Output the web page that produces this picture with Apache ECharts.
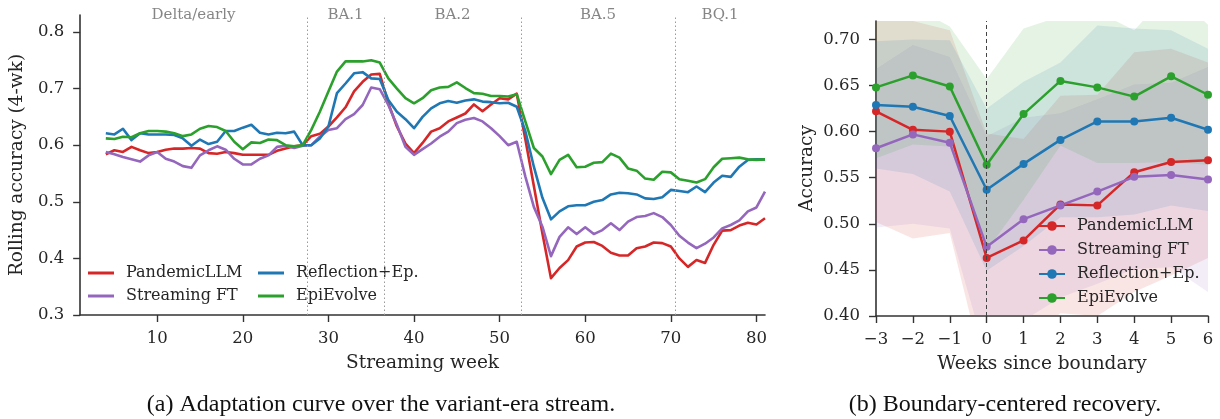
<!DOCTYPE html>
<html>
<head>
<meta charset="utf-8">
<style>
  html, body { margin: 0; padding: 0; background: #ffffff; }
  #chart { width: 1220px; height: 419px; }
</style>
<script src="https://cdn.jsdelivr.net/npm/echarts@6/dist/echarts.min.js"></script>
</head>
<body>
<div id="chart"></div>
<script>
// ---- (a) adaptation curve: 4-week rolling accuracy per streaming week ----
const weeks = [4, 5, 6, 7, 8, 9, 10, 11, 12, 13, 14, 15, 16, 17, 18, 19, 20, 21, 22, 23,
  24, 25, 26, 27, 28, 29, 30, 31, 32, 33, 34, 35, 36, 37, 38, 39, 40, 41, 42, 43,
  44, 45, 46, 47, 48, 49, 50, 51, 52, 53, 54, 55, 56, 57, 58, 59, 60, 61, 62, 63,
  64, 65, 66, 67, 68, 69, 70, 71, 72, 73, 74, 75, 76, 77, 78, 79, 80, 81];

const pandemicRolling = [0.584, 0.591, 0.588, 0.597, 0.591, 0.586, 0.588, 0.592, 0.594, 0.594,
  0.595, 0.594, 0.586, 0.585, 0.588, 0.586, 0.583, 0.583, 0.583, 0.583,
  0.590, 0.594, 0.598, 0.600, 0.616, 0.620, 0.633, 0.649, 0.667, 0.695,
  0.712, 0.725, 0.726, 0.674, 0.633, 0.603, 0.586, 0.604, 0.624, 0.630,
  0.642, 0.649, 0.656, 0.672, 0.660, 0.672, 0.683, 0.681, 0.691, 0.611,
  0.528, 0.444, 0.365, 0.383, 0.397, 0.421, 0.428, 0.429, 0.422, 0.410,
  0.405, 0.405, 0.418, 0.421, 0.428, 0.427, 0.421, 0.400, 0.385, 0.397,
  0.392, 0.424, 0.449, 0.450, 0.458, 0.463, 0.460, 0.471];

const streamingRolling = [0.588, 0.584, 0.579, 0.575, 0.571, 0.582, 0.588, 0.576, 0.571, 0.563,
  0.560, 0.582, 0.591, 0.598, 0.592, 0.576, 0.566, 0.566, 0.576, 0.582,
  0.597, 0.599, 0.595, 0.599, 0.600, 0.615, 0.627, 0.630, 0.646, 0.655,
  0.671, 0.702, 0.699, 0.671, 0.636, 0.597, 0.583, 0.593, 0.603, 0.615,
  0.624, 0.639, 0.645, 0.648, 0.642, 0.630, 0.616, 0.600, 0.606, 0.545,
  0.491, 0.456, 0.404, 0.438, 0.455, 0.443, 0.455, 0.443, 0.450, 0.462,
  0.450, 0.465, 0.473, 0.475, 0.480, 0.473, 0.459, 0.440, 0.428, 0.418,
  0.426, 0.437, 0.453, 0.459, 0.467, 0.483, 0.490, 0.518];

const reflectionRolling = [0.621, 0.619, 0.629, 0.609, 0.621, 0.619, 0.619, 0.619, 0.618, 0.612,
  0.599, 0.610, 0.602, 0.606, 0.625, 0.625, 0.631, 0.636, 0.622, 0.619,
  0.622, 0.621, 0.624, 0.600, 0.600, 0.612, 0.633, 0.692, 0.709, 0.727,
  0.729, 0.718, 0.717, 0.680, 0.659, 0.646, 0.630, 0.650, 0.665, 0.674,
  0.678, 0.675, 0.679, 0.681, 0.677, 0.676, 0.674, 0.675, 0.668, 0.625,
  0.562, 0.507, 0.469, 0.483, 0.492, 0.494, 0.494, 0.500, 0.503, 0.513,
  0.516, 0.515, 0.513, 0.506, 0.505, 0.508, 0.521, 0.519, 0.517, 0.527,
  0.517, 0.534, 0.546, 0.544, 0.562, 0.574, 0.575, 0.575];

const epiEvolveRolling = [0.612, 0.611, 0.615, 0.614, 0.621, 0.625, 0.625, 0.624, 0.621, 0.616,
  0.619, 0.629, 0.634, 0.632, 0.625, 0.606, 0.593, 0.605, 0.604, 0.610,
  0.609, 0.600, 0.598, 0.600, 0.627, 0.659, 0.695, 0.730, 0.748, 0.748,
  0.748, 0.750, 0.746, 0.718, 0.700, 0.683, 0.674, 0.683, 0.697, 0.702,
  0.703, 0.711, 0.701, 0.692, 0.691, 0.687, 0.687, 0.686, 0.690, 0.642,
  0.595, 0.580, 0.549, 0.574, 0.583, 0.561, 0.562, 0.569, 0.570, 0.585,
  0.578, 0.559, 0.555, 0.541, 0.539, 0.553, 0.552, 0.540, 0.537, 0.534,
  0.540, 0.561, 0.576, 0.577, 0.578, 0.575, 0.574, 0.575];

const eraNames = ['Delta/early', 'BA.1', 'BA.2', 'BA.5', 'BQ.1'];
const eraCenters = [14.25, 32, 44.5, 61.5, 75.75];
const eraBoundaries = [27.5, 36.5, 52.5, 70.5];

const weekTicks = [10, 20, 30, 40, 50, 60, 70, 80];
const rollingTicks = [0.3, 0.4, 0.5, 0.6, 0.7, 0.8];

// ---- (b) boundary-centred recovery: mean and spread per offset ----
const offsets = [-3, -2, -1, 0, 1, 2, 3, 4, 5, 6];

const pandemicRecovery = [0.622, 0.602, 0.600, 0.463, 0.482, 0.521, 0.520, 0.556, 0.567, 0.569];
const streamingRecovery = [0.582, 0.597, 0.588, 0.475, 0.505, 0.520, 0.535, 0.551, 0.553, 0.548];
const reflectionRecovery = [0.629, 0.627, 0.617, 0.537, 0.565, 0.591, 0.611, 0.611, 0.615, 0.602];
const epiEvolveRecovery = [0.648, 0.661, 0.649, 0.564, 0.619, 0.655, 0.648, 0.638, 0.660, 0.640];

const pandemicSpread = [0.120, 0.118, 0.110, 0.135, 0.110, 0.118, 0.120, 0.130, 0.123, 0.106];
const streamingSpread = [0.086, 0.097, 0.093, 0.120, 0.110, 0.100, 0.100, 0.100, 0.100, 0.122];
const reflectionSpread = [0.069, 0.073, 0.082, 0.088, 0.089, 0.084, 0.104, 0.101, 0.095, 0.088];
const epiEvolveSpread = [0.077, 0.075, 0.065, 0.093, 0.093, 0.070, 0.082, 0.072, 0.093, 0.076];

const accuracyTicks = [0.40, 0.45, 0.50, 0.55, 0.60, 0.65, 0.70];

(function drawFigure() {
  'use strict';

  const FONT = 'DejaVu Serif';
  const INK = '#262626';
  const SPINE = '#333333';

  const methods = [
    { name: 'PandemicLLM', color: '#d62728', rolling: pandemicRolling, recovery: pandemicRecovery, spread: pandemicSpread },
    { name: 'Streaming FT', color: '#9467bd', rolling: streamingRolling, recovery: streamingRecovery, spread: streamingSpread },
    { name: 'Reflection+Ep.', color: '#1f77b4', rolling: reflectionRolling, recovery: reflectionRecovery, spread: reflectionSpread },
    { name: 'EpiEvolve', color: '#2ca02c', rolling: epiEvolveRolling, recovery: epiEvolveRecovery, spread: epiEvolveSpread }
  ];

  const pair = function pair(xs, ys) {
    return xs.map(function (x, i) { return [x, ys[i]]; });
  };

  const axisBase = function axisBase() {
    return {
      axisLine: { show: true, onZero: false, lineStyle: { color: SPINE, width: 1.6 } },
      axisTick: { show: true, length: 7, lineStyle: { color: SPINE, width: 1.4 } },
      axisLabel: { color: INK, fontSize: 16.5, fontFamily: FONT, margin: 15 },
      splitLine: { show: false },
      nameTextStyle: { color: INK, fontSize: 18.5, fontFamily: FONT }
    };
  };

  const merge = function merge(base, extra) {
    const out = Object.assign({}, base, extra);
    ['axisLine', 'axisTick', 'axisLabel', 'nameTextStyle'].forEach(function (key) {
      if (extra[key]) {
        out[key] = Object.assign({}, base[key], extra[key]);
      }
    });
    return out;
  };

  const minusSign = function minusSign(v) {
    return v < 0 ? '\u2212' + Math.abs(v) : String(v);
  };

  const series = [];

  // left panel lines
  methods.forEach(function (m, i) {
    const s = {
      type: 'line',
      name: m.name,
      xAxisIndex: 0,
      yAxisIndex: 0,
      data: pair(weeks, m.rolling),
      symbol: 'none',
      color: m.color,
      lineStyle: { width: 2.6, color: m.color, join: 'round' },
      z: 3
    };
    if (i === 0) {
      s.markLine = {
        silent: true,
        symbol: 'none',
        label: { show: false },
        lineStyle: { type: [1.5, 2.5], color: '#9a9a9a', width: 1 },
        data: eraBoundaries.map(function (x) { return { xAxis: x }; })
      };
    }
    series.push(s);
  });

  series.push({
    type: 'scatter',
    name: 'eras',
    xAxisIndex: 0,
    yAxisIndex: 0,
    symbolSize: 0,
    silent: true,
    data: eraCenters.map(function (c, i) { return { value: [c, 0.83], name: eraNames[i] }; }),
    label: {
      show: true,
      position: 'inside',
      formatter: '{b}',
      color: '#666666',
      fontSize: 15,
      fontFamily: FONT
    }
  });

  // right panel spread bands, one polygon per method drawn through the axes
  methods.forEach(function (m, i) {
    const lower = m.recovery.map(function (v, j) { return v - m.spread[j]; });
    const upper = m.recovery.map(function (v, j) { return v + m.spread[j]; });
    const fill = echarts.color.modifyAlpha(m.color, 0.12);
    const band = {
      type: 'custom',
      name: m.name + ' band',
      xAxisIndex: 1,
      yAxisIndex: 1,
      silent: true,
      z: 1,
      data: offsets.map(function (x, j) { return [x, lower[j], upper[j]]; }),
      encode: { x: 0, y: [1, 2] },
      renderItem: function (params, api) {
        if (params.dataIndex !== 0) {
          return null;
        }
        const top = offsets.map(function (x, j) { return api.coord([x, upper[j]]); });
        const bottom = offsets.map(function (x, j) { return api.coord([x, lower[j]]); }).reverse();
        const cs = params.coordSys;
        return {
          type: 'polygon',
          shape: { points: top.concat(bottom) },
          style: { fill: fill },
          clipPath: { type: 'rect', shape: { x: cs.x, y: cs.y, width: cs.width, height: cs.height } }
        };
      }
    };
    if (i === 3) {
      band.markLine = {
        silent: true,
        symbol: 'none',
        label: { show: false },
        lineStyle: { type: [4, 3], color: '#444444', width: 1 },
        data: [{ xAxis: 0 }]
      };
    }
    series.push(band);
  });

  // right panel mean lines
  methods.forEach(function (m) {
    series.push({
      type: 'line',
      name: m.name + ' (b)',
      xAxisIndex: 1,
      yAxisIndex: 1,
      data: pair(offsets, m.recovery),
      symbol: 'circle',
      symbolSize: 8,
      showSymbol: true,
      color: m.color,
      itemStyle: { color: m.color },
      lineStyle: { width: 2.5, color: m.color },
      z: 4
    });
  });

  const legendText = { color: INK, fontSize: 16, fontFamily: FONT, padding: [0, 0, 0, 7] };

  const option = {
    animation: false,
    backgroundColor: '#ffffff',
    textStyle: { fontFamily: FONT },
    grid: [
      { left: 80, top: 15, width: 685, height: 300 },
      { left: 876, top: 21, width: 332, height: 295 }
    ],
    xAxis: [
      merge(axisBase(), {
        type: 'value',
        gridIndex: 0,
        min: 1,
        max: 81,
        name: 'Streaming week',
        nameLocation: 'middle',
        nameGap: 39,
        axisTick: { customValues: weekTicks },
        axisLabel: { customValues: weekTicks }
      }),
      merge(axisBase(), {
        type: 'value',
        gridIndex: 1,
        min: -3,
        max: 6,
        interval: 1,
        name: 'Weeks since boundary',
        nameLocation: 'middle',
        nameGap: 39,
        axisLabel: { formatter: minusSign }
      })
    ],
    yAxis: [
      merge(axisBase(), {
        type: 'value',
        gridIndex: 0,
        min: 0.3,
        max: 0.83,
        name: 'Rolling accuracy (4-wk)',
        nameLocation: 'middle',
        nameGap: 52,
        axisTick: { customValues: rollingTicks },
        axisLabel: { customValues: rollingTicks, margin: 16, formatter: function (v) { return v.toFixed(1); } }
      }),
      merge(axisBase(), {
        type: 'value',
        gridIndex: 1,
        min: 0.40,
        max: 0.72,
        name: 'Accuracy',
        nameLocation: 'middle',
        nameGap: 59,
        axisTick: { customValues: accuracyTicks },
        axisLabel: { customValues: accuracyTicks, margin: 16, formatter: function (v) { return v.toFixed(2); } }
      })
    ],
    legend: [
      {
        data: ['PandemicLLM', 'Streaming FT'],
        orient: 'vertical',
        left: 83,
        top: 260,
        icon: 'rect',
        itemWidth: 26,
        itemHeight: 3,
        itemGap: 7,
        textStyle: legendText
      },
      {
        data: ['Reflection+Ep.', 'EpiEvolve'],
        orient: 'vertical',
        left: 253,
        top: 260,
        icon: 'rect',
        itemWidth: 26,
        itemHeight: 3,
        itemGap: 7,
        textStyle: legendText
      },
      {
        data: methods.map(function (m) { return m.name + ' (b)'; }),
        orient: 'vertical',
        left: 1033,
        top: 213,
        itemWidth: 26,
        itemHeight: 12,
        itemGap: 8,
        formatter: function (name) { return name.replace(' (b)', ''); },
        textStyle: legendText
      }
    ],
    graphic: [
      {
        type: 'text',
        x: 381,
        y: 405,
        style: {
          text: '(a) Adaptation curve over the variant-era stream.',
          font: '24px "Liberation Serif"',
          fill: '#111111',
          align: 'center',
          verticalAlign: 'middle'
        }
      },
      {
        type: 'text',
        x: 1005,
        y: 405,
        style: {
          text: '(b) Boundary-centered recovery.',
          font: '24px "Liberation Serif"',
          fill: '#111111',
          align: 'center',
          verticalAlign: 'middle'
        }
      }
    ],
    series: series
  };

  const chart = echarts.init(document.getElementById('chart'), null, { renderer: 'canvas' });
  chart.setOption(option);
})();
</script>
</body>
</html>
